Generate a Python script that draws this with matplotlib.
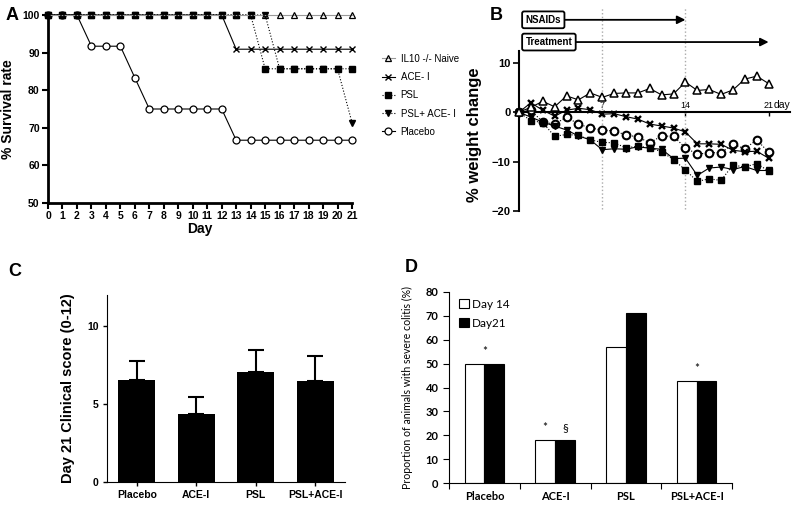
import numpy as np
import matplotlib.pyplot as plt

plt.rcParams['font.family'] = ['Liberation Sans', 'DejaVu Sans']

days = np.arange(22)

# A: survival rate (%)
surv_naive = [100] * 22
surv_ace = [100] * 13 + [90.9] * 9
surv_psl = [100] * 15 + [85.7] * 7
surv_psl_ace = [100] * 16 + [85.7] * 5 + [71.4]
surv_placebo = [100, 100, 100, 91.7, 91.7, 91.7, 83.3] + [75] * 6 + [66.7] * 9

# B: weight change (%)
wt_naive = [0, 1.0, 2.2, 1.1, 3.3, 2.5, 3.9, 3.0, 3.8, 3.9, 3.9, 4.8, 3.5, 3.7,
            6.1, 4.4, 4.6, 3.6, 4.5, 6.7, 7.3, 5.8]
wt_ace = [0, 1.9, 0.4, -0.8, 0.4, 0.8, 0.5, -0.4, -0.3, -0.9, -1.4, -2.4, -2.8,
          -3.2, -4.0, -6.4, -6.4, -6.5, -7.7, -8.0, -7.9, -9.3]
wt_placebo = [0, 0.4, -2.0, -2.4, -1.0, -2.4, -3.2, -3.6, -3.8, -4.6, -5.0, -6.2,
              -4.8, -4.9, -7.2, -8.5, -8.2, -8.2, -6.5, -7.4, -5.6, -8.1]
wt_psl = [0, -1.7, -2.1, -4.9, -4.5, -4.7, -5.6, -6.1, -6.2, -7.2, -6.9, -7.2,
          -8.0, -9.6, -11.7, -14.0, -13.5, -13.8, -10.7, -11.1, -10.4, -11.9]
wt_psl_ace = [0, -1.0, -2.0, -2.8, -3.6, -4.8, -5.6, -7.6, -7.4, -7.5, -7.0, -7.3,
              -7.5, -9.4, -9.3, -12.8, -11.3, -11.1, -11.6, -11.0, -11.8, -11.8]

# C: day 21 clinical score
groups = ['Placebo', 'ACE-I', 'PSL', 'PSL+ACE-I']
score_mean = [6.55, 4.35, 7.07, 6.49]
score_err = [1.2, 1.1, 1.43, 1.6]

# D: proportion with severe colitis (%)
severe_d14 = [50, 18.2, 57.1, 42.9]
severe_d21 = [50, 18.2, 71.4, 42.9]
marks_d14 = ['*', '*', '', '*']
marks_d21 = ['', '§', '', '']

fig = plt.figure(figsize=(8, 5.09), dpi=100)
W, H = 800, 509


def box(l, t, r, b):
    return [l / W, 1 - b / H, (r - l) / W, (b - t) / H]


# ---------------- A ----------------
axA = fig.add_axes(box(48, 15, 352, 203))
kw = dict(lw=0.8, clip_on=False)
axA.plot(days, surv_placebo, color='black', marker='o', mfc='white', mec='black',
         mew=0.9, markersize=5, label='Placebo', **kw)
axA.plot(days, surv_ace, color='black', marker='x', mew=1.0, markersize=4.5,
         label='ACE- I', **kw)
axA.plot(days, surv_psl_ace, color='black', ls=':', marker='v', markersize=4,
         label='PSL+ ACE- I', **kw)
axA.plot(days, surv_psl, color='black', ls=':', marker='s', markersize=4,
         label='PSL', **kw)
axA.plot(days, surv_naive, color='#999999', marker='^', mfc='none', mec='black',
         mew=0.9, markersize=5, label='IL10 -/- Naive', **kw)
axA.set_xlim(0, 21)
axA.set_ylim(50, 100)
axA.set_xticks(days)
axA.set_yticks(range(50, 101, 10))
for s in ['top', 'right']:
    axA.spines[s].set_visible(False)
for s in ['left', 'bottom']:
    axA.spines[s].set_linewidth(2)
axA.tick_params(direction='out', length=4, width=1.5, labelsize=7.5, pad=2)
for t in axA.get_xticklabels() + axA.get_yticklabels():
    t.set_fontweight('bold')
axA.set_ylabel('% Survival rate', fontsize=10, fontweight='bold')
axA.yaxis.set_label_coords(-0.11, 0.5)
axA.set_xlabel('Day', fontsize=10, fontweight='bold')
axA.xaxis.set_label_coords(0.5, -0.1)
h, l = axA.get_legend_handles_labels()
order = ['IL10 -/- Naive', 'ACE- I', 'PSL', 'PSL+ ACE- I', 'Placebo']
hs = [h[l.index(o)] for o in order]
axA.legend(hs, order, loc='upper left', bbox_to_anchor=(1.07, 0.84), frameon=False,
           fontsize=7, handlelength=1.3, labelspacing=0.85, handletextpad=0.6)

# ---------------- B ----------------
axB = fig.add_axes(box(519, 5, 790, 211))
axB.set_xlim(0, 22.8)
axB.set_ylim(-20, 21.7)
for d in [7, 14]:
    axB.axvline(d, ymin=0.01, ymax=0.99, color='#aaaaaa', ls=':', lw=1)
axB.plot(days, wt_placebo, color='black', ls=':', lw=0.8, marker='o', mfc='white',
         mec='black', mew=1.5, markersize=5.5, clip_on=False, zorder=3)
axB.plot(days, wt_psl, color='black', ls=':', lw=0.8, marker='s', markersize=4.8,
         clip_on=False, zorder=3)
axB.plot(days, wt_psl_ace, color='black', lw=0.8, marker='v', markersize=5,
         clip_on=False, zorder=3)
axB.plot(days, wt_ace, color='black', lw=0.8, marker='x', mew=1.7, markersize=5,
         clip_on=False, zorder=3)
axB.plot(days, wt_naive, color='black', lw=0.8, marker='^', mfc='white', mec='black',
         mew=1.1, markersize=5.5, clip_on=False, zorder=3)
for s in ['top', 'right']:
    axB.spines[s].set_visible(False)
axB.spines['left'].set_linewidth(1.5)
axB.spines['left'].set_bounds(-20, 12.4)
axB.spines['bottom'].set_position(('data', 0))
axB.spines['bottom'].set_linewidth(1.5)
axB.set_yticks([-20, -10, 0, 10])
axB.set_xticks([7, 14, 21])
axB.tick_params(axis='y', direction='out', length=4, width=1.2, labelsize=8, pad=2)
axB.tick_params(axis='x', direction='out', length=3, width=1, labelsize=6.5, pad=-11)
for t in axB.get_yticklabels():
    t.set_fontweight('bold')
axB.text(21.4, 0.5, 'day', fontsize=7.5, ha='left', va='bottom')
axB.set_ylabel('% weight change', fontsize=12, fontweight='bold')
axB.yaxis.set_label_coords(-0.135, 0.37)
bb = dict(boxstyle='round,pad=0.35,rounding_size=0.2', fc='white', ec='black', lw=1.3)
arr = dict(arrowstyle='-|>', color='black', lw=1.3, mutation_scale=12,
           shrinkA=0, shrinkB=0)
axB.annotate('', xy=(14, 18.7), xytext=(1, 18.7), arrowprops=arr, annotation_clip=False)
axB.annotate('', xy=(21, 14.2), xytext=(1, 14.2), arrowprops=arr, annotation_clip=False)
axB.text(0.55, 18.7, 'NSAIDs', fontsize=7, fontweight='bold', va='center', ha='left',
         bbox=bb, zorder=5)
axB.text(0.55, 14.2, 'Treatment', fontsize=7, fontweight='bold', va='center', ha='left',
         bbox=bb, zorder=5)

# ---------------- C ----------------
axC = fig.add_axes(box(107, 295, 345, 482))
x = np.arange(len(groups))
axC.bar(x, score_mean, width=0.62, color='black')
axC.errorbar(x, score_mean, yerr=[np.zeros(4), score_err], fmt='none', ecolor='black',
             elinewidth=1.5, capsize=6, capthick=1.5)
axC.set_xlim(-0.5, 3.5)
axC.set_ylim(0, 12)
axC.set_yticks([0, 5, 10])
axC.set_xticks(x)
axC.set_xticklabels(groups)
for s in ['top', 'right']:
    axC.spines[s].set_visible(False)
axC.tick_params(direction='out', length=3, width=1, labelsize=7.5, pad=3)
for t in axC.get_xticklabels() + axC.get_yticklabels():
    t.set_fontweight('bold')
axC.set_ylabel('Day 21 Clinical score (0-12)', fontsize=10.5, fontweight='bold')
axC.yaxis.set_label_coords(-0.135, 0.5)

# ---------------- D ----------------
axD = fig.add_axes(box(449, 292, 732, 483))
bw = 0.28
axD.bar(x - bw / 2, severe_d14, width=bw, color='white', edgecolor='black', lw=0.8,
        label='Day 14')
axD.bar(x + bw / 2, severe_d21, width=bw, color='black', edgecolor='black', lw=0.8,
        label='Day21')
for i in range(len(groups)):
    top = max(severe_d14[i], severe_d21[i])
    if marks_d14[i] and marks_d21[i]:
        axD.text(x[i] - bw / 2, top + 5, marks_d14[i], ha='center', va='center',
                 fontsize=8.5, family='Lato')
        axD.text(x[i] + bw / 2, top + 5, marks_d21[i], ha='center', va='center',
                 fontsize=8.5, family='Lato')
    elif marks_d14[i]:
        axD.text(x[i], top + 5, marks_d14[i], ha='center', va='center', fontsize=8.5,
                 family='Lato')
axD.set_xlim(-0.5, 3.5)
axD.set_ylim(0, 80)
axD.set_yticks(range(0, 81, 10))
axD.set_xticks(x)
axD.set_xticklabels(groups)
axD.set_xticks(np.arange(-0.5, 4, 1), minor=True)
axD.tick_params(axis='x', which='major', length=0, pad=6)
axD.tick_params(axis='x', which='minor', direction='out', length=4, width=0.8)
axD.tick_params(axis='y', direction='out', length=4, width=0.8)
for s in ['top', 'right']:
    axD.spines[s].set_visible(False)
for s in ['left', 'bottom']:
    axD.spines[s].set_linewidth(0.8)
for t in axD.get_xticklabels() + axD.get_yticklabels():
    t.set_fontweight('bold')
    t.set_family('Lato')
    t.set_fontsize(8)
axD.set_ylabel('Proportion of animals with severe colitis (%)', fontsize=7.6,
               family='Lato')
axD.yaxis.set_label_coords(-0.127, 0.5)
axD.legend(loc='upper left', bbox_to_anchor=(0.02, 0.99), frameon=False,
           prop={'family': 'Lato', 'size': 8.5}, handlelength=0.8, handleheight=0.8,
           handletextpad=0.3, labelspacing=0.7, borderaxespad=0)

# panel letters
for lab, px, py in [('A', 6, 15), ('B', 490, 15), ('C', 8, 272), ('D', 405, 268)]:
    fig.text(px / W, 1 - py / H, lab, fontsize=13, fontweight='bold', va='center',
             ha='left')

fig.savefig('out.png', dpi=100)
